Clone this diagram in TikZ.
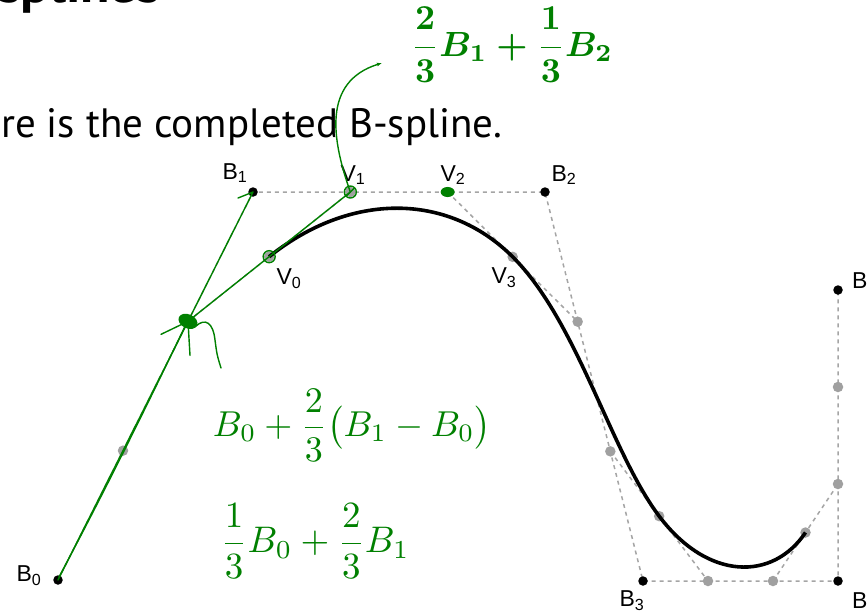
\documentclass[tikz,border=0pt]{standalone}
\usepackage{amsmath}
\usepackage{fontspec}
\setmainfont{Liberation Sans}
\newfontfamily\slidefont{PT Sans}
\usetikzlibrary{calc, positioning, arrows.meta}
\definecolor{ink}{RGB}{0, 128, 0}
\definecolor{ctrlgrey}{RGB}{165, 165, 165}
\definecolor{midgrey}{RGB}{160, 160, 160}

\begin{document}
\begin{tikzpicture}[x=1pt, y=-1pt,
  ctrl/.style={ctrlgrey, line width=1.5pt, dash pattern=on 4pt off 4pt},
  cpt/.style={circle, fill=black, inner sep=0pt, minimum size=9.5pt},
  mid/.style={circle, fill=midgrey, inner sep=0pt, minimum size=10.5pt},
  lbl/.style={font=\fontsize{23}{26}\selectfont, inner sep=0pt},
  pen/.style={ink, line width=1.4pt, line cap=round, line join=round},
  hand/.style={ink, inner sep=0pt}]

  \useasboundingbox (0,0) rectangle (867,614);
  \clip (0,0) rectangle (867,614);

  % slide text
  \node[anchor=base west, inner sep=0pt] (title) at (-2,2)
    {\slidefont\fontsize{54}{58}\selectfont\bfseries splines};
  \node[anchor=base west, inner sep=0pt] (line) at (1,137)
    {\slidefont\fontsize{41}{45}\selectfont re is the completed B-spline.};

  % control points
  \coordinate (B0) at (58,580);
  \coordinate (B1) at (253,192);
  \coordinate (B2) at (545,192);
  \coordinate (B3) at (643,581);
  \coordinate (B4) at (838,581);
  \coordinate (B5) at (838,290);

  % thirds of the control polygon
  \coordinate (s01) at ($(B0)!1/3!(B1)$);
  \coordinate (s10) at ($(B0)!2/3!(B1)$);
  \coordinate (s12) at ($(B1)!1/3!(B2)$);
  \coordinate (s21) at ($(B1)!2/3!(B2)$);
  \coordinate (s23) at ($(B2)!1/3!(B3)$);
  \coordinate (s32) at ($(B2)!2/3!(B3)$);
  \coordinate (s34) at ($(B3)!1/3!(B4)$);
  \coordinate (s43) at ($(B3)!2/3!(B4)$);
  \coordinate (s45) at ($(B4)!1/3!(B5)$);
  \coordinate (s54) at ($(B4)!2/3!(B5)$);

  % joints
  \coordinate (V0) at ($(s10)!.5!(s12)$);
  \coordinate (V3) at ($(s21)!.5!(s23)$);
  \coordinate (V4) at ($(s32)!.5!(s34)$);
  \coordinate (V5) at ($(s43)!.5!(s45)$);

  \draw[ctrl] (B0) -- (B1) -- (B2) -- (B3) -- (B4) -- (B5);
  \draw[ctrl] (s10) -- (s12);
  \draw[ctrl] (s21) -- (s23);
  \draw[ctrl] (s32) -- (s34);
  \draw[ctrl] (s43) -- (s45);

  \foreach \p in {s01,s10,V0,s12,s21,V3,s23,s32,V4,s34,s43,V5,s45,s54}
    \node[mid] at (\p) {};

  \draw[line width=3.6pt] (V0) .. controls (s12) and (s21) .. (V3)
    .. controls (s23) and (s32) .. (V4)
    .. controls (s34) and (s43) .. (V5);

  \foreach \p in {B0,B1,B2,B3,B4,B5}
    \node[cpt] at (\p) {};

  % labels
  \node[lbl] (lB0) at (29,576) {B\textsubscript{0}};
  \node[lbl] (lB1) at (235,173) {B\textsubscript{1}};
  \node[lbl] (lB2) at (564,175) {B\textsubscript{2}};
  \node[lbl] (lB3) at (632,601) {B\textsubscript{3}};
  \node[lbl, anchor=west] (lB4) at (852,602) {B\textsubscript{4}};
  \node[lbl, anchor=west] (lB5) at (852,283) {B\textsubscript{5}};
  \node[lbl] (lV0) at (289,279) {V\textsubscript{0}};
  \node[lbl] (lV1) at (353,175) {V\textsubscript{1}};
  \node[lbl] (lV2) at (453,175) {V\textsubscript{2}};
  \node[lbl] (lV3) at (504,278) {V\textsubscript{3}};

  % handwritten notes
  \node[hand] (eqtop) at (512,45)
    {\scalebox{3.5}{\boldmath$\dfrac{2}{3}B_1+\dfrac{1}{3}B_2$}};
  \node[hand] (eqmid) at (352,425)
    {\scalebox{3.6}{$B_0+\dfrac{2}{3}\bigl(B_1-B_0\bigr)$}};
  \node[hand] (eqlow) at (315,541)
    {\scalebox{3.7}{$\dfrac{1}{3}B_0+\dfrac{2}{3}B_1$}};
  \coordinate (tip) at (382,63);

  \draw[pen] (B0) -- (s10) -- (B1) -- ++(-15,6);
  \draw[pen] ($(B0)+(1,-3)$) .. controls (100,500) and (140,420) .. ($(s10)+(-2,3)$);
  \draw[pen] (s10) -- (V0) -- (s12);
  \draw[pen] (s10) -- ++(-27,13);
  \draw[pen] (s10) -- ++(2,34);
  \draw[pen] (196,326) .. controls (205,318) and (213,322) .. (215,340)
    .. controls (217,355) .. (221,368);
  \draw[pen, -{Latex[length=5pt,width=4pt]}] (s12) .. controls (332,140) and (322,82) .. (tip);

  \fill[ink, rotate around={-25:(s10)}] (s10) ellipse (10 and 7);
  \fill[ink] (s21) ellipse (7 and 5);
  \draw[pen] (V0) circle (6);
  \draw[pen] (s12) circle (6);
  \draw[pen] ($(s12)+(-4,4)$) -- ($(s12)+(4,-4)$);
\end{tikzpicture}
\end{document}
